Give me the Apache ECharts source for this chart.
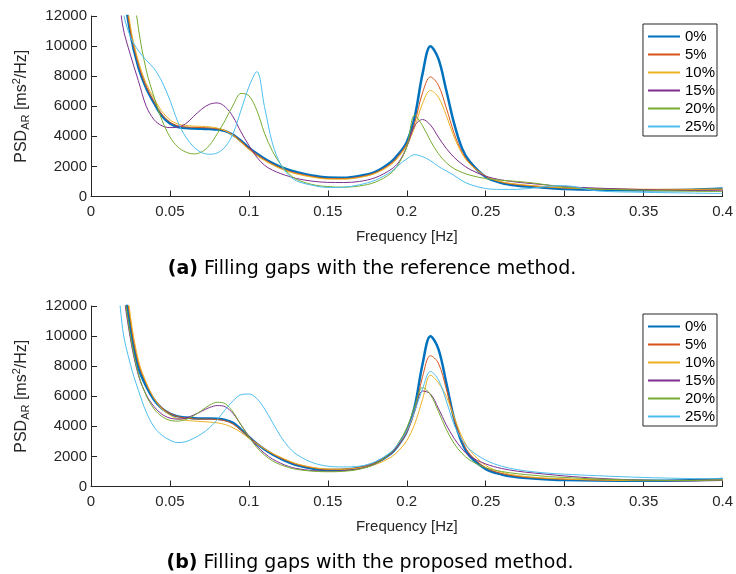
<!DOCTYPE html>
<html><head><meta charset="utf-8">
<script src="https://cdn.jsdelivr.net/npm/echarts@6/dist/echarts.min.js"></script>
<style>html,body{margin:0;padding:0;background:#fff}#c{width:736px;height:574px}</style>
</head><body><div id="c"></div>
<script>
const freq = [0.015,0.02,0.025,0.03,0.035,0.04,0.045,0.05,0.055,0.06,0.065,0.07,0.075,0.08,0.085,0.09,0.095,0.1,0.105,0.11,0.115,0.12,0.125,0.13,0.14,0.15,0.16,0.17,0.18,0.19,0.195,0.2,0.205,0.21,0.215,0.22,0.225,0.23,0.235,0.24,0.25,0.26,0.27,0.28,0.29,0.3,0.32,0.35,0.38,0.4];
const names = ['0%','5%','10%','15%','20%','25%'];
const colors = ['#0072BD','#D95319','#EDB120','#7E2F8E','#77AC30','#4DBEEE'];
const captionA = 'Filling gaps with the reference method.';
const captionB = 'Filling gaps with the proposed method.';

// (a) reference method
const refP0 = [22000,14500,10800,8600,7200,6200,5350,4850,4620,4550,4520,4500,4480,4450,4350,4100,3700,3250,2850,2510,2220,1970,1780,1630,1400,1260,1250,1370,1640,2300,2850,3630,5290,8170,9990,9170,7060,4850,3200,2300,1300,900,720,640,560,500,450,420,450,530];
const refP5 = [23000,15000,11000,8800,7300,6300,5450,4950,4700,4620,4600,4580,4560,4500,4380,4100,3680,3200,2800,2450,2150,1900,1700,1550,1330,1200,1190,1300,1580,2200,2750,3500,4900,6900,7950,7400,5900,4200,2950,2200,1350,950,790,700,620,560,500,470,460,450];
const refP10 = [24000,15500,11300,9000,7500,6500,5650,5100,4820,4720,4680,4660,4630,4550,4380,4050,3600,3120,2720,2380,2100,1850,1660,1500,1290,1160,1150,1260,1530,2120,2650,3400,4600,6200,7050,6600,5400,3950,2850,2150,1350,980,820,720,640,580,520,480,480,500];
const refP15 = [16000,11400,9400,7700,6000,5100,4700,4580,4620,4840,5330,5800,6130,6220,5960,5290,4290,3400,2620,2070,1750,1530,1350,1200,1020,940,930,1000,1250,1800,2300,3300,4700,5120,4750,3950,3200,2600,2150,1800,1350,1100,950,850,750,660,560,460,400,380];
const refP20 = [30000,22000,15500,11200,8400,6600,5070,3960,3290,2960,2830,2960,3400,4180,5070,6070,6850,6700,5730,4180,3000,2150,1550,1150,800,660,620,700,950,1550,2200,3300,5400,4700,3700,2850,2250,1850,1600,1420,1190,1080,1000,900,750,620,500,420,350,330];
const refP25 = [18000,12500,10600,9700,9060,8500,7620,6400,4960,3960,3300,2920,2810,2900,3300,4190,5730,7280,8300,5900,3500,2150,1450,1050,750,600,620,780,1080,1650,2100,2500,2780,2650,2380,2000,1700,1400,1050,800,530,470,480,560,680,720,380,280,230,200];

// (b) proposed method
const propP0 = [22000,14500,10500,7900,6650,5750,5180,4850,4660,4580,4540,4520,4520,4500,4420,4230,3800,3300,2850,2460,2130,1860,1620,1430,1200,1100,1120,1250,1560,2200,2800,3650,5300,8150,9990,9150,6900,4500,2900,2000,1150,800,620,530,470,430,400,380,420,500];
const propP5 = [24000,15500,11000,8200,6850,5850,5220,4870,4650,4550,4500,4480,4480,4450,4370,4150,3750,3280,2870,2500,2180,1900,1680,1480,1250,1140,1150,1270,1570,2200,2780,3600,5000,7300,8700,8200,6500,4500,3050,2150,1250,870,680,580,520,480,430,400,410,450];
const propP10 = [25000,16000,11300,8400,6900,5850,5150,4750,4500,4400,4350,4320,4280,4230,4120,3900,3600,3200,2850,2500,2200,1950,1720,1520,1280,1160,1150,1230,1460,1950,2400,3050,4150,5800,7400,6900,6000,4600,3300,2400,1400,950,730,620,550,500,440,390,390,420];
const propP15 = [20000,13500,9800,7400,6100,5300,4800,4550,4480,4550,4750,5000,5250,5380,5300,4850,4100,3350,2700,2200,1820,1550,1340,1200,1060,1020,1050,1180,1500,2200,2850,3750,5000,6350,6150,5200,4100,3200,2500,2000,1500,1200,1020,900,800,700,550,420,370,400];
const propP20 = [21000,14000,10000,7500,6050,5150,4650,4400,4350,4450,4700,5050,5400,5600,5500,4950,4100,3300,2600,2080,1700,1450,1270,1140,1020,980,1010,1150,1500,2250,2950,3900,5300,6580,6100,5000,3800,2850,2200,1750,1250,1000,850,750,660,600,500,420,400,430];
const propP25 = [16500,10500,8100,6400,4950,3950,3400,3080,2920,2980,3200,3500,3900,4450,5100,5700,6100,6150,5850,5150,4250,3350,2650,2150,1600,1350,1300,1350,1650,2300,2900,3700,5000,6500,7650,7100,5700,4100,3100,2450,1750,1350,1120,980,880,820,720,600,530,520];

const refSets = [refP0, refP5, refP10, refP15, refP20, refP25];
const propSets = [propP0, propP5, propP10, propP15, propP20, propP25];

const FONT = 'Liberation Sans';
const INK = '#262626';
const gridTops = [16, 306];
const plotH = 180.5;

function mkX(i) {
  return {
    gridIndex: i, type: 'value', min: 0, max: 0.4, interval: 0.05,
    name: 'Frequency [Hz]', nameLocation: 'middle', nameGap: 33,
    nameTextStyle: {fontFamily: FONT, fontSize: 15, color: INK},
    axisLine: {show: true, lineStyle: {color: INK, width: 1}},
    axisTick: {show: true, inside: true, length: 6, lineStyle: {color: INK}},
    axisLabel: {fontFamily: FONT, fontSize: 15, color: INK, margin: 8},
    splitLine: {show: false}
  };
}
function mkY(i) {
  return {
    gridIndex: i, type: 'value', min: 0, max: 12000, interval: 2000,
    name: '{a|PSD}{s|AR}{a| [ms}{p|2}{a|/Hz]}', nameLocation: 'middle', nameGap: 54, nameRotate: 90,
    nameTextStyle: {
      fontFamily: FONT, fontSize: 15, color: INK,
      rich: {
        a: {fontFamily: FONT, fontSize: 16, color: INK, lineHeight: 26, verticalAlign: 'middle'},
        s: {fontFamily: FONT, fontSize: 11, color: INK, lineHeight: 26, verticalAlign: 'bottom', padding: [0,0,3,0]},
        p: {fontFamily: FONT, fontSize: 11, color: INK, lineHeight: 26, verticalAlign: 'top', padding: [3,0,0,0]}
      }
    },
    axisLine: {show: true, lineStyle: {color: INK, width: 1}},
    axisTick: {show: true, inside: true, length: 6, lineStyle: {color: INK}},
    axisLabel: {fontFamily: FONT, fontSize: 15, color: INK, margin: 4, formatter: v => String(v)},
    splitLine: {show: false}
  };
}

const series = [];
[refSets, propSets].forEach((sets, gi) => {
  sets.forEach((vals, k) => {
    series.push({
      name: names[k], type: 'line', xAxisIndex: gi, yAxisIndex: gi,
      data: freq.map((f, j) => [f, vals[j]]),
      smooth: 0.35, symbol: 'none', showSymbol: false, clip: true,
      lineStyle: {color: colors[k], width: k === 0 ? 2.5 : 1},
      itemStyle: {color: colors[k]},
      emphasis: {disabled: true}, animation: false
    });
  });
});

function mkLegend(top) {
  return {
    top: top, right: 19, orient: 'vertical', data: names,
    itemWidth: 32, itemHeight: 14, itemGap: 3, itemTextGap: 3,
    itemStyle: {opacity: 0, borderWidth: 0},
    padding: [5, 2, 2, 4], borderColor: INK, borderWidth: 1, borderRadius: 0,
    backgroundColor: '#fff',
    textStyle: {fontFamily: FONT, fontSize: 15, color: '#000', lineHeight: 15}
  };
}

const capRich = {
  b: {fontFamily: 'DejaVu Sans', fontWeight: 'bold', fontSize: 19, color: '#000'},
  t: {fontFamily: 'DejaVu Sans', fontSize: 19, color: '#000'}
};

const chart = echarts.init(document.getElementById('c'), null, {renderer: 'canvas'});
chart.setOption({
  animation: false,
  backgroundColor: '#fff',
  grid: gridTops.map(t => ({left: 91, right: 10, top: t, height: plotH, containLabel: false})),
  xAxis: [mkX(0), mkX(1)],
  yAxis: [mkY(0), mkY(1)],
  legend: [mkLegend(24), mkLegend(314)],
  series: series,
  graphic: [
    {type: 'text', x: 372, y: 269, style: {text: '{b|(a)}{t| ' + captionA + '}', rich: capRich, align: 'center', verticalAlign: 'middle'}},
    {type: 'text', x: 370, y: 563, style: {text: '{b|(b)}{t| ' + captionB + '}', rich: capRich, align: 'center', verticalAlign: 'middle'}}
  ]
});
</script>
</body></html>
